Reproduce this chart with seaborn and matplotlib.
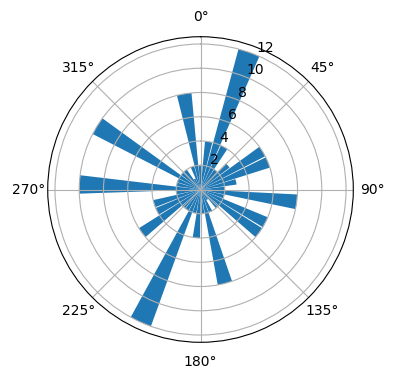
import numpy as np
import pandas as pd
import matplotlib
matplotlib.use("Agg")
import matplotlib.pyplot as plt
import seaborn as sns

# bar directions (degrees, clockwise from north) and counts
angles_deg = [0.0, 9.7, 19.5, 29.2, 38.9, 48.6, 58.4, 68.1, 77.8, 87.6,
              97.3, 107.0, 116.8, 126.5, 136.2, 146.0, 155.7, 165.4, 175.1, 184.9,
              194.6, 204.3, 214.1, 223.8, 233.5, 243.2, 253.0, 262.7, 272.4, 282.2,
              291.9, 301.6, 311.4, 321.1, 330.8, 340.5, 350.3]
counts = [2, 4, 12, 4, 2, 3, 6, 6, 3, 2,
          8, 2, 6, 6, 2, 1, 2, 8, 2, 4,
          2, 12, 2, 2, 6, 4, 4, 2, 10, 2,
          2, 10, 2, 2, 1, 2, 8]
r_ticks = [2, 4, 6, 8, 10, 12]

df = pd.DataFrame({"theta": np.deg2rad(angles_deg), "count": counts})

fig = plt.figure(figsize=(3.96, 3.8), dpi=100)
ax = fig.add_axes([0.1205, 0.0992, 0.7717, 0.8042], projection="polar")
ax.set_theta_zero_location("N")
ax.set_theta_direction(-1)

sns.barplot(data=df, x="theta", y="count", native_scale=True, width=0.9,
            color=sns.color_palette()[0], saturation=1, errorbar=None,
            linewidth=0, edgecolor="none", ax=ax)

ax.set_xlabel("")
ax.set_ylabel("")
ax.set_ylim(0, 12.6)
ax.set_yticks(r_ticks)
ax.set_xticks(np.deg2rad(np.arange(0, 360, 45)))
ax.set_xticklabels([f"{a}°" for a in range(0, 360, 45)])
ax.grid(True)

fig.savefig("out.png", dpi=100)
